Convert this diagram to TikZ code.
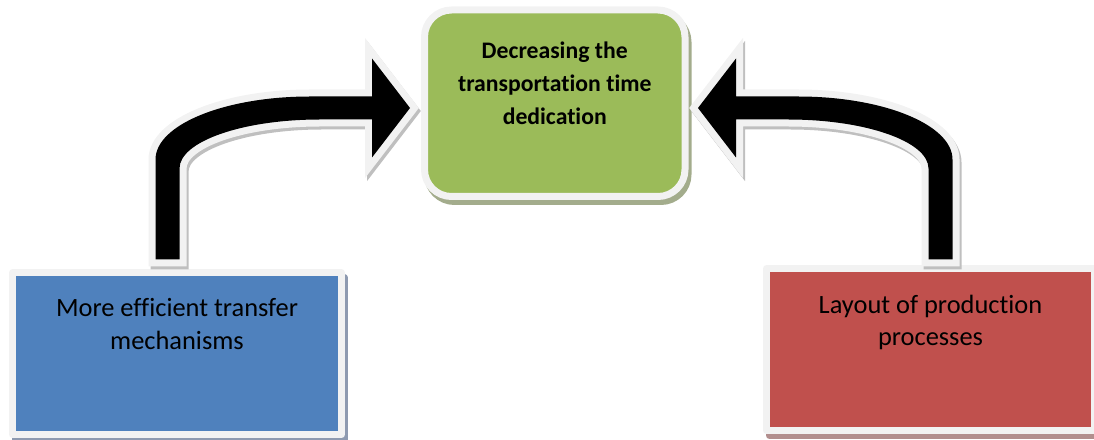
\documentclass[tikz,border=0pt]{standalone}
\usepackage{fontspec}
\setmainfont{Carlito}[Ligatures=CommonOff]
\usetikzlibrary{shadows}

\definecolor{framegray}{HTML}{F2F2F2}
\definecolor{arrowgray}{HTML}{BFBFBF}
\definecolor{topgreen}{HTML}{9BBB59}
\definecolor{leftblue}{HTML}{4F81BD}
\definecolor{rightred}{HTML}{C0504D}
\definecolor{greenshade}{HTML}{A3AC8C}
\definecolor{blueshade}{HTML}{8E9AB0}
\definecolor{redshade}{HTML}{B28F8E}

\tikzset{
  box/.style={rectangle, draw=framegray, line width=7pt, line join=round, inner sep=0pt},
  boxshadow/.style={drop shadow={shadow xshift=3pt, shadow yshift=-5pt, opacity=1,
      fill=#1, draw=#1, line width=7pt}},
  % block arrow bent up at the tail, origin = middle of the tail
  bentarrow/.pic={
    \path[pic actions] (-12,0) -- (-12,100)
      .. controls (-12,134.8) and (57.2,163) .. (142.5,163)
      -- (204.5,163) -- (204.5,201) -- (242.5,151.5) -- (204.5,102)
      -- (204.5,140) -- (152.5,140)
      .. controls (74.9,140) and (12,118) .. (12,91)
      -- (12,0) -- cycle;
  },
  arrowshadow/.style={fill=arrowgray, draw=arrowgray, line width=14pt, line join=miter},
  arrowframe/.style={draw=framegray, line width=14pt, line join=miter},
  arrowbody/.style={fill=black},
}

\begin{document}
\begin{tikzpicture}[x=1pt,y=1pt]
  \useasboundingbox (0,0) rectangle (1094,439);

  \node[box, fill=topgreen, rounded corners=27pt, boxshadow=greenshade] (green) at (554.75,335.75)
    {\parbox[c][186.5pt][t]{260.5pt}{\centering\bfseries\fontsize{23.7}{33.3}\selectfont
      \vspace*{25pt}\strut Decreasing the\\ transportation time\\ dedication}};
  \node[box, fill=leftblue, boxshadow=blueshade] (blue) at (177,85.25)
    {\parbox[c][161.5pt][t]{329pt}{\centering\fontsize{26.4}{32.5}\selectfont
      \vspace*{21.25pt}\strut More efficient transfer\\ mechanisms}};
  \node[box, fill=rightred, boxshadow=redshade] (red) at (930.5,89.5)
    {\parbox[c][162pt][t]{328pt}{\centering\fontsize{26.4}{32.5}\selectfont
      \vspace*{22pt}\strut Layout of production\\ processes}};

  % arrows from the lower boxes up into the green one
  \coordinate (ltail) at ([xshift=-9.5pt, yshift=10pt]blue.north);
  \coordinate (rtail) at ([xshift=10pt, yshift=5.5pt]red.north);
  \foreach \tail/\flip in {ltail/1, rtail/-1} {
    \pic[arrowshadow, xscale=\flip] at ([shift={(2,-3)}]\tail) {bentarrow};
    \pic[arrowframe, xscale=\flip] at (\tail) {bentarrow};
    \pic[arrowbody, xscale=\flip] at (\tail) {bentarrow};
  }
\end{tikzpicture}
\end{document}
